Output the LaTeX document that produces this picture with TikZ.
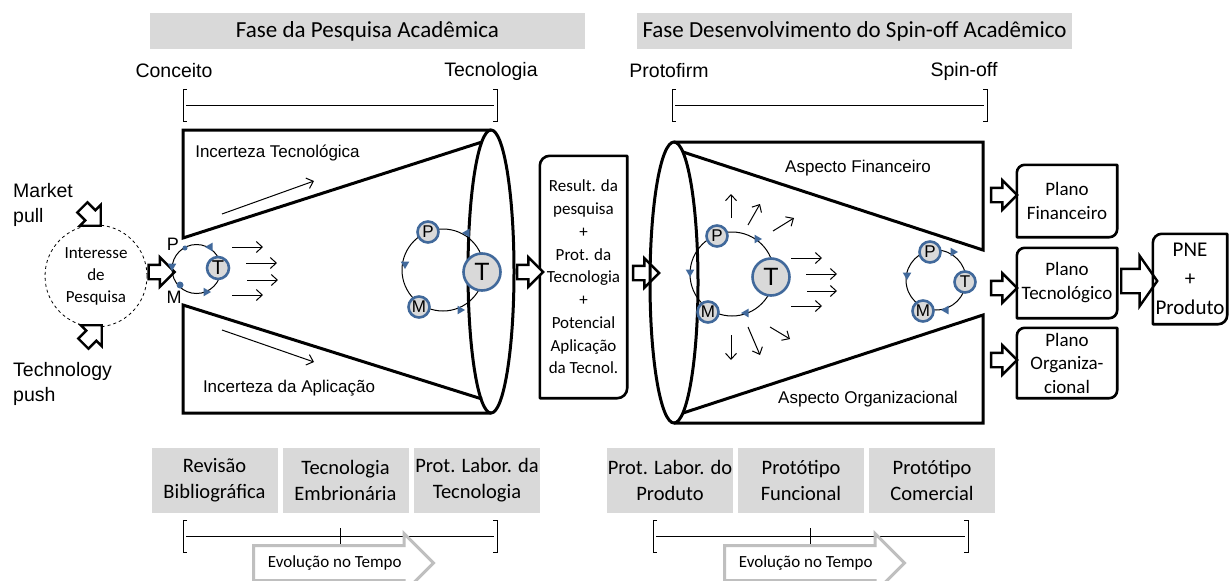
\documentclass[tikz,border=0pt]{standalone}
\usepackage{fontspec}
\setmainfont{Carlito}
\newfontfamily\arialf{Liberation Sans}
\usetikzlibrary{shapes.arrows}
\usetikzlibrary{shapes.geometric}
\usetikzlibrary{arrows.meta}

\definecolor{boxgray}{RGB}{217,217,217}
\definecolor{loopblue}{RGB}{65,105,155}
\definecolor{evolgray}{RGB}{191,191,191}

% box with two rounded corners (top left, bottom right)
\newcommand\diagframe[2]{%
  \draw[line width=2.6pt, line join=round] (#1.north east) -- ([xshift=#2]#1.north west)
    arc[start angle=90, end angle=180, radius=#2] -- (#1.south west)
    -- ([xshift=-#2]#1.south east) arc[start angle=-90, end angle=0, radius=#2] -- cycle;}

\begin{document}
\begin{tikzpicture}[x=1pt, y=-1pt,
  hdr/.style={fill=boxgray, minimum width=435, minimum height=36, inner sep=0,
    font=\fontsize{23}{26}\selectfont},
  stage/.style={fill=boxgray, minimum width=126, minimum height=65, inner sep=0,
    align=center, font=\fontsize{20.5}{26}\selectfont},
  lbl/.style={inner sep=0, font=\arialf\fontsize{19.5}{25}\selectfont},
  flbl/.style={inner sep=0, font=\arialf\fontsize{17}{20}\selectfont},
  brk/.style={line width=1pt},
  funnel/.style={line width=3pt},
  barrow/.style={single arrow, draw, fill=white, line width=2.4pt, inner xsep=0,
    inner ysep=6, minimum height=26, single arrow head extend=7.5},
  evol/.style={single arrow, draw=evolgray, fill=white, line width=3pt, inner xsep=6,
    inner ysep=8, text height=12, text depth=4, minimum height=180,
    single arrow head extend=12, font=\fontsize{17}{20}\selectfont},
  loopline/.style={line width=1pt},
  pmt/.style={circle, draw=loopblue, fill=boxgray, line width=2.6pt, inner sep=0,
    font=\arialf\fontsize{17}{20}\selectfont},
  mk/.style={regular polygon, regular polygon sides=3, fill=loopblue, inner sep=0,
    minimum size=10},
  mv/.style={-{Straight Barb[length=6pt, width=11pt]}, line width=1pt},
  plano/.style={minimum width=100, minimum height=70, inner sep=0, align=center,
    font=\fontsize{19}{24}\selectfont}]

      \useasboundingbox (0,0) rectangle (1229,581);

      % phase headers
      \node at (367.5,31) [hdr, name=hdrA] {Fase da Pesquisa Acadêmica};
      \node at (854.5,31) [hdr, name=hdrB] {Fase Desenvolvimento do Spin-off Acadêmico};

      \node at (174,71) [lbl, name=conc] {Conceito};
      \node at (491,71) [lbl, name=tecn] {Tecnologia};
      \node at (669,71) [lbl, name=prfm] {Protofirm};
      \node at (964,71) [lbl, name=spin] {Spin-off};

      % top brackets
      \draw[brk] (187,89) -- (183,89) -- (183,121) -- (187,121);
      \draw[brk] (493,89) -- (497,89) -- (497,121) -- (493,121);
      \draw[brk] (186,105) -- (494,105);
      \draw[brk] (676,89) -- (672,89) -- (672,121) -- (676,121);
      \draw[brk] (983,89) -- (987,89) -- (987,121) -- (983,121);
      \draw[brk] (675,105) -- (984,105);

      % research interest
      \node at (96,276) [draw, dashed, circle, minimum size=102, inner sep=0,
      line width=0.8pt, align=center, name=interest,
      font=\fontsize{17}{22}\selectfont] {Interesse\\de\\Pesquisa};

      \node at (13,205) [lbl, anchor=west, align=left, name=mpull] {Market\\pull};
      \node at (13,384) [lbl, anchor=west, align=left, name=tpush] {Technology\\push};

      \node at (89,214) [barrow, rotate=-45, name=pullarr] {};
      \node at (90,337) [barrow, rotate=45, name=pusharr] {};
      \node at (158,272) [barrow, name=intarr] {};

      % left funnel
      \draw[funnel] (491,130) -- (183,130) -- (183,238) -- (482,142);
      \draw[funnel] (482,399) -- (183,305) -- (183,413) -- (491,413);
      \draw[funnel] (491,271.5) ellipse [x radius=23, y radius=141.5];

      \node at (277.5,153) [flbl, name=inctec] {Incerteza Tecnológica};
      \node at (289,388) [flbl, name=incapl] {Incerteza da Aplicação};

      \draw[mv] (222,214) -- (314,181);
      \draw[mv] (222,330) -- (314,362);

      % small loop (left)
      \draw[loopline] (196.5,269) circle [radius=24.5];
      \fill[loopblue] (185,248) circle [radius=2.5];
      \fill[loopblue] (180,285) circle [radius=3.5];
      \node at (210,247) [mk, rotate=90, name=mkA1] {};
      \node at (172,266) [mk, rotate=180, name=mkA2] {};
      \node at (206,292) [mk, rotate=-90, name=mkA3] {};
      \node at (218,268) [pmt, minimum size=22, font=\arialf\fontsize{20}{20}\selectfont,
      name=TA] {T};
      \node at (173,244) [flbl, font=\arialf\fontsize{18}{20}\selectfont, name=PA] {P};
      \node at (174,297) [flbl, font=\arialf\fontsize{18}{20}\selectfont, name=MA] {M};

      \draw[mv] (232,247) -- (263,247);
      \draw[mv] (246,263) -- (277,263);
      \draw[mv] (247,280) -- (278,280);
      \draw[mv] (232,295) -- (263,295);

      % big loop (left)
      \draw[loopline] (443,270) circle [radius=41];
      \node at (467,233) [mk, rotate=90, name=mkB1] {};
      \node at (405,264) [mk, rotate=180, name=mkB2] {};
      \node at (460,310) [mk, rotate=-90, name=mkB3] {};
      \node at (482,272) [pmt, minimum size=37, font=\arialf\fontsize{25}{25}\selectfont,
      name=TB] {T};
      \node at (428,232) [pmt, minimum size=21, name=PB] {P};
      \node at (419,307) [pmt, minimum size=21, name=MB] {M};

      % research result
      \node at (583.5,277) [minimum width=87, minimum height=242, inner sep=0, align=center,
      font=\fontsize{17}{22.75}\selectfont, name=res]
      {Result. da\\pesquisa\\+\\Prot. da\\Tecnologia\\+\\Potencial\\Aplicação\\da Tecnol.};
      \diagframe{res}{10pt}

      \node at (526.5,272) [barrow, name=resin] {};
      \node at (642.5,273) [barrow, name=resout] {};

      % right funnel
      \draw[funnel] (674,142) -- (983,142) -- (983,250) -- (683,152);
      \draw[funnel] (683,413) -- (983,315) -- (983,423) -- (674,423);
      \draw[funnel] (674,282.5) ellipse [x radius=24, y radius=140.5];

      \node at (858,168) [flbl, name=aspfin] {Aspecto Financeiro};
      \node at (868,399) [flbl, name=asporg] {Aspecto Organizacional};

      % big loop (right)
      \draw[loopline] (732,274) circle [radius=42];
      \node at (757,239) [mk, rotate=-90, name=mkC1] {};
      \node at (690,272) [mk, rotate=180, name=mkC2] {};
      \node at (746,313) [mk, rotate=90, name=mkC3] {};
      \node at (771,277) [pmt, minimum size=37, font=\arialf\fontsize{25}{25}\selectfont,
      name=TC] {T};
      \node at (717,236) [pmt, minimum size=21, name=PC] {P};
      \node at (708,312) [pmt, minimum size=21, name=MC] {M};

      \draw[mv] (731,218) -- (731,194);
      \draw[mv] (748,225) -- (760,204);
      \draw[mv] (773,231) -- (794,218);
      \draw[mv] (791,258) -- (822,258);
      \draw[mv] (806,274) -- (837,274);
      \draw[mv] (807,291) -- (837,291);
      \draw[mv] (791,306) -- (822,306);
      \draw[mv] (731,335) -- (731,360);
      \draw[mv] (748,327) -- (760,355);
      \draw[mv] (770,327) -- (790,339);

      % small loop (right)
      \draw[loopline] (936,280) circle [radius=30];
      \node at (953,252) [mk, rotate=-90, name=mkD1] {};
      \node at (907,275) [mk, rotate=180, name=mkD2] {};
      \node at (946,310) [mk, rotate=90, name=mkD3] {};
      \node at (930,252) [pmt, minimum size=21, name=PD] {P};
      \node at (965,282) [pmt, minimum size=21, name=TD] {T};
      \node at (923,311) [pmt, minimum size=21, name=MD] {M};

      % plans
      \node at (1000.5,195) [barrow, name=finarr] {};
      \node at (1000.5,288) [barrow, name=tecarr] {};
      \node at (1000.5,360) [barrow, name=orgarr] {};

      \node at (1067,201) [plano, minimum height=72, name=pfin] {Plano\\Financeiro};
      \diagframe{pfin}{8pt}
      \node at (1067,283) [plano, name=ptec] {Plano\\Tecnológico};
      \diagframe{ptec}{8pt}
      \node at (1067,363) [plano, font=\fontsize{19}{23.5}\selectfont, name=porg]
      {Plano\\Organiza-\\cional};
      \diagframe{porg}{8pt}

      \node at (1135,281) [barrow, inner ysep=11, minimum height=36,
      single arrow head extend=13, single arrow tip angle=110, name=pnearr] {};

      \node at (1190,279) [minimum width=74, minimum height=90, inner sep=0, align=center,
      font=\fontsize{21}{29}\selectfont, name=pne] {PNE\\+\\Produto};
      \diagframe{pne}{9pt}

      % stages
      \node at (214.5,480.5) [stage, name=sA] {Revisão\\Bibliográfica};
      \node at (345.5,480.5) [stage, name=sB] {Tecnologia\\Embrionária};
      \node at (477,480.5) [stage, name=sC] {Prot. Labor. da\\Tecnologia};
      \node at (670,480.5) [stage, name=sD] {Prot. Labor. do\\Produto};
      \node at (801,480.5) [stage, name=sE] {Protótipo\\Funcional};
      \node at (932,480.5) [stage, name=sF] {Protótipo\\Comercial};

      % bottom brackets
      \draw[brk] (187,520) -- (183,520) -- (183,552) -- (187,552);
      \draw[brk] (493,520) -- (497,520) -- (497,552) -- (493,552);
      \draw[brk] (186,536) -- (494,536);
      \draw[brk] (340,528) -- (340,544);
      \draw[brk] (657,520) -- (653,520) -- (653,552) -- (657,552);
      \draw[brk] (964,520) -- (968,520) -- (968,552) -- (964,552);
      \draw[brk] (656,536) -- (965,536);
      \draw[brk] (810,528) -- (810,544);

      \node at (252,563) [evol, anchor=tail, name=evA] {Evolução no Tempo};
      \node at (723,563) [evol, anchor=tail, name=evB] {Evolução no Tempo};
\end{tikzpicture}
\end{document}
